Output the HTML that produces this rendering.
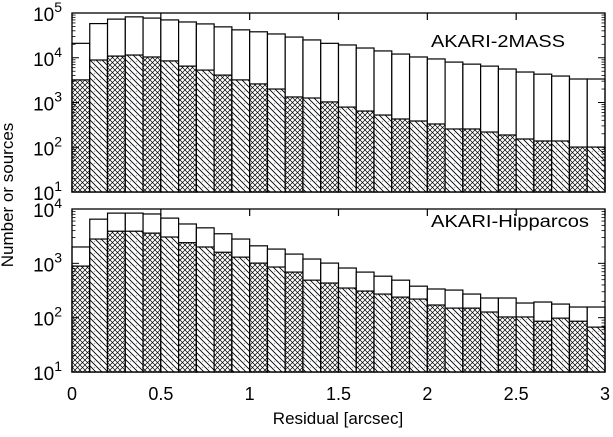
<!DOCTYPE html>
<html><head><meta charset="utf-8">
<style>
body{margin:0;background:#fff;}
svg text{font-family:"Liberation Sans",sans-serif;fill:#000;}
</style></head>
<body>
<svg id="chart" width="613" height="432" viewBox="0 0 613 432">
<defs>
<pattern id="hatchA" width="6" height="6" patternUnits="userSpaceOnUse">
<rect width="6" height="6" fill="#fff"/>
<path d="M-1,-1 L7,7 M-1,5 L1,7 M5,-1 L7,1" stroke="#000" stroke-width="0.9"/>
<circle cx="4.5" cy="1.5" r="0.7" fill="#9ab"/>
</pattern>
<pattern id="hatchB" width="5" height="5" patternUnits="userSpaceOnUse">
<rect width="5" height="5" fill="#fff"/>
<path d="M0,0 L5,5 M5,0 L0,5" stroke="#000" stroke-width="0.7"/>
</pattern>
</defs>
<g id="plots"></g>
<text x="13" y="195" transform="rotate(-90 13 195)" text-anchor="middle" font-size="17">Number or sources</text>
<text x="338" y="424" text-anchor="middle" font-size="17">Residual [arcsec]</text>
</svg>
<script>
const binStarts = [0,0.1,0.2,0.3,0.4,0.5,0.6,0.7,0.8,0.9,1.0,1.1,1.2,1.3,1.4,1.5,1.6,1.7,1.8,1.9,2.0,2.1,2.2,2.3,2.4,2.5,2.6,2.7,2.8,2.9];
const twomassTotal = [21000,58000,73000,82000,77000,70000,63000,57000,49000,42000,38000,34000,29000,25000,21000,19300,16500,14200,12100,10400,9400,8000,7200,6500,5600,4800,4300,3900,3350,3350];
const twomassInner = [3200,8900,10900,11500,10400,8500,6500,5300,4100,3200,2600,2000,1330,1260,1030,790,645,525,428,386,331,256,256,219,188,153,138,138,101,101];
const hippTotal = [2000,6500,8400,8400,8100,6800,5300,4500,3500,2800,2100,1830,1480,1200,1010,820,690,580,490,380,337,322,272,230,230,186,194,178,157,157];
const hippInner = [890,2800,3900,3900,3600,3050,2400,2000,1600,1300,1010,855,690,490,434,351,309,272,239,220,171,150,150,127,103,103,86,98,86,67];
const xTicks = [0,0.5,1,1.5,2,2.5,3];
const xTickLabels = ["0","0.5","1","1.5","2","2.5","3"];
const binWidth = 0.1;

const NS = "http://www.w3.org/2000/svg";
const X0 = 72, X1 = 605;
function xs(v){ return X0 + (v/3)*(X1-X0); }
function mk(tag, attrs, parent){
  const e = document.createElementNS(NS, tag);
  for (const k in attrs) e.setAttribute(k, attrs[k]);
  parent.appendChild(e); return e;
}
const root = document.getElementById('plots');

function panel(name, top, bottom, decMin, decMax, totals, inner, label, labelY, labelLen){
  const g = mk('g', {}, root);
  
  
  const ys = v => bottom - (Math.log10(v)-decMin)/(decMax-decMin)*(bottom-top);
  const clip = v => Math.max(Math.min(ys(v), bottom), top);
  for (let i=0;i<binStarts.length;i++){
    const xa = xs(binStarts[i]), xb = xs(binStarts[i]+binWidth);
    const yt = clip(totals[i]);
    const r1 = mk('rect', {x:xa, y:yt, width:xb-xa, height:bottom-yt, fill:'#fff', stroke:'#000', 'stroke-width':1.2}, g);
    
    
    const yi = clip(inner[i]);
    const r2 = mk('rect', {x:xa, y:yi, width:xb-xa, height:bottom-yi, fill: (i%2? 'url(#hatchA)':'url(#hatchB)'), stroke:'#000', 'stroke-width':1.2}, g);
    
    
  }
  const f = mk('rect', {x:X0, y:top, width:X1-X0, height:bottom-top, fill:'none', stroke:'#000', 'stroke-width':1.3}, g);
  
  
  for (const t of xTicks){
    const x = xs(t);
    mk('line', {x1:x, x2:x, y1:bottom, y2:bottom-7, stroke:'#000', 'stroke-width':1.2}, g);
    mk('line', {x1:x, x2:x, y1:top, y2:top+7, stroke:'#000', 'stroke-width':1.2}, g);
  }
  for (let d=decMin; d<=decMax; d++){
    const y = ys(Math.pow(10,d));
    mk('line', {x1:X0, x2:X0+7, y1:y, y2:y, stroke:'#000', 'stroke-width':1}, g);
    mk('line', {x1:X1, x2:X1-7, y1:y, y2:y, stroke:'#000', 'stroke-width':1}, g);
    const t = mk('text', {x:X0-10, y:y+8, 'text-anchor':'end', 'font-size':19}, g);
    
    
    t.textContent = '10';
    const s = mk('tspan', {dy:-9, 'font-size':14}, t);
    s.textContent = String(d);
    if (d<decMax){
      for (let m=2;m<=9;m++){
        const ym = ys(m*Math.pow(10,d));
        mk('line', {x1:X0, x2:X0+3.5, y1:ym, y2:ym, stroke:'#000', 'stroke-width':0.8}, g);
        mk('line', {x1:X1, x2:X1-3.5, y1:ym, y2:ym, stroke:'#000', 'stroke-width':0.8}, g);
      }
    }
  }
  const lt = mk('text', {x:431, y:labelY, 'font-size':17.5, textLength:labelLen, lengthAdjust:'spacingAndGlyphs'}, g);
  
  
  lt.textContent = label;
}
panel('panel-akari-2mass', 13, 192, 1, 5, twomassTotal, twomassInner, 'AKARI-2MASS', 47, 134);
panel('panel-akari-hipparcos', 209, 372, 1, 4, hippTotal, hippInner, 'AKARI-Hipparcos', 227, 158);

const g = document.getElementById('chart');
xTicks.forEach((t,i)=>{
  const tx = mk('text', {x:xs(t), y:400, 'text-anchor':'middle', 'font-size':18}, g);
  
  
  tx.textContent = xTickLabels[i];
});
</script>
</body></html>
